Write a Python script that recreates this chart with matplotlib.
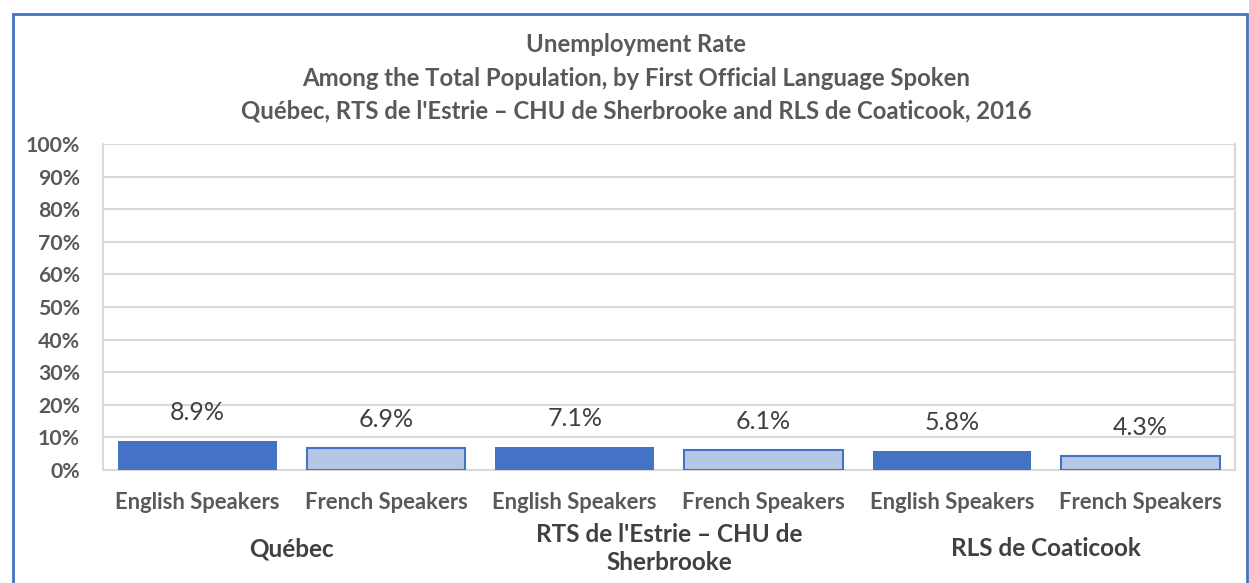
import matplotlib
matplotlib.use("Agg")
import matplotlib.pyplot as plt
import numpy as np
from matplotlib.patches import Rectangle
from matplotlib.transforms import blended_transform_factory

# ---- data ----
groups = ["Québec", "RTS de l'Estrie – CHU de\nSherbrooke", "RLS de Coaticook"]
categories = ["English Speakers", "French Speakers"] * 3
values = [8.9, 6.9, 7.1, 6.1, 5.8, 4.3]
value_labels = ["8.9%", "6.9%", "7.1%", "6.1%", "5.8%", "4.3%"]
y_ticks = [0, 10, 20, 30, 40, 50, 60, 70, 80, 90, 100]
y_tick_labels = [f"{t}%" for t in y_ticks]
title_lines = [
    "Unemployment Rate",
    "Among the Total Population, by First Official Language Spoken",
    "Québec, RTS de l'Estrie – CHU de Sherbrooke and RLS de Coaticook, 2016",
]

plt.rcParams["font.family"] = ["Lato", "DejaVu Sans"]

W, H = 1249, 583
fig = plt.figure(figsize=(W / 100, H / 100), dpi=100)

def fx(px):
    return px / W

def fy(py):
    return 1 - py / H

# outer chart frame
fig.patches.append(Rectangle((fx(13), fy(600)), fx(1247) - fx(13), fy(14) - fy(600),
                             transform=fig.transFigure, fill=False,
                             edgecolor="#4472C4", linewidth=2))

ax = fig.add_axes([fx(103), fy(470), fx(1235) - fx(103), fy(144) - fy(470)])

x = np.arange(len(values))
eng_color = "#4472C4"
fr_color = "#B4C7E7"
colors = [eng_color if i % 2 == 0 else fr_color for i in range(len(values))]
bars = ax.bar(x, values, width=0.84, color=colors, zorder=3)
for i, b in enumerate(bars):
    if i % 2 == 1:
        b.set_edgecolor(eng_color)
        b.set_linewidth(1.5)

ax.set_xlim(-0.5, len(values) - 0.5)
ax.set_ylim(0, 100)
ax.set_yticks(y_ticks)
ax.set_yticklabels(y_tick_labels, fontsize=15.3, fontweight="bold", color="#595959")
ax.set_xticks(x)
ax.set_xticklabels(categories, fontsize=15.8, fontweight="bold", color="#595959")
ax.tick_params(axis="both", length=0)
ax.tick_params(axis="y", pad=16.5)
ax.tick_params(axis="x", pad=16)
ax.grid(axis="y", color="#D9D9D9", linewidth=1.5, zorder=0)
ax.spines["top"].set_visible(False)
for side in ["left", "right", "bottom"]:
    ax.spines[side].set_color("#D9D9D9")
    ax.spines[side].set_linewidth(1.5)

for xi, v, lab in zip(x, values, value_labels):
    ax.annotate(lab, (xi, v), xytext=(0, 17), textcoords="offset pixels",
                ha="center", va="bottom", fontsize=18, color="#404040")

trans = blended_transform_factory(ax.transData, fig.transFigure)
for gi, g in enumerate(groups):
    xc = gi * 2 + 0.5
    ax.text(xc, fy(548.5), g, transform=trans, ha="center", va="center",
            fontsize=17.5, fontweight="bold", color="#404040", linespacing=1.3)

for i, line in enumerate(title_lines):
    fig.text(fx(636), fy(45 + 33 * i), line, ha="center", va="center",
             fontsize=17.2, fontweight="bold", color="#595959")

fig.savefig("out.png", dpi=100)
